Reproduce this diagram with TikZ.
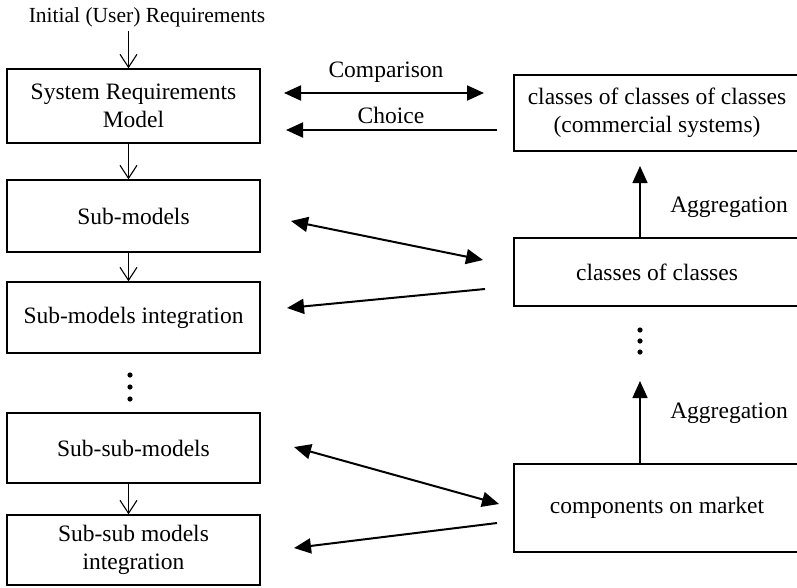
\documentclass[tikz,border=0pt]{standalone}
\usepackage{fontspec}
\setmainfont{Liberation Serif}
\usetikzlibrary{arrows.meta,calc}

\tikzset{
  box/.style={draw, line width=1.4pt, rectangle, inner sep=0pt, align=center},
  lbox/.style={box, minimum width=253pt},
  rbox/.style={box, minimum width=286pt},
  flow/.style={line width=1pt, -{Straight Barb[length=13pt,width=17pt,line width=1.1pt]}},
  link/.style={line width=2pt, -{Triangle[length=17pt,width=15pt]}},
  blink/.style={line width=2pt, {Triangle[length=17pt,width=15pt]}-{Triangle[length=17pt,width=15pt]}},
  agg/.style={line width=1.5pt, -{Triangle[length=17pt,width=15pt]}},
  lbl/.style={inner sep=0pt}
}

\begin{document}
\begin{tikzpicture}[x=1pt, y=-1pt, font=\fontsize{23.5}{28}\selectfont]
  \useasboundingbox (0,0) rectangle (797,587);
  \clip (0,0) rectangle (797,587);

  % left column: requirement models
  \node[lbl, font=\fontsize{21.5}{26}\selectfont] (title) at (147,17) {Initial (User) Requirements};
  \node[lbox, minimum height=74pt] (srm) at (133.5,106) {System Requirements\\Model};
  \node[lbox, minimum height=72pt] (sub) at (133.5,216) {Sub-models};
  \node[lbox, minimum height=71pt] (subint) at (133.5,317.5) {Sub-models integration};
  \node[lbox, minimum height=70pt] (ssub) at (133.5,448) {Sub-sub-models};
  \node[lbox, minimum height=70pt] (ssubint) at (133.5,550) {Sub-sub models\\integration};

  % right column: market classes
  \node[rbox, minimum height=76pt] (ccc) at (657,113) {classes of classes of classes\\(commercial systems)};
  \node[rbox, minimum height=68pt] (cc) at (657,272) {classes of classes};
  \node[rbox, minimum height=88pt] (comp) at (657,508) {components on market};

  % downward flow on the left
  \draw[flow] ([xshift=-5pt]title.south -| srm.north) ++(0,4) -- ([xshift=-5pt]srm.north);
  \draw[flow] ([xshift=-5pt]srm.south) -- ([xshift=-5pt]sub.north);
  \draw[flow] ([xshift=-5pt]sub.south) -- ([xshift=-5pt]subint.north);
  \draw[flow] ([xshift=-5pt]ssub.south) -- ([xshift=-5pt]ssubint.north);

  % continuation dots
  \foreach \y in {375,387,399} \fill (130,\y) circle (2.6pt);
  \foreach \y in {330,341,352} \fill (640,\y) circle (2.6pt);

  % aggregation upwards on the right
  \coordinate (ag1s) at (640,237);
  \coordinate (ag1e) at (640,166);
  \coordinate (ag2s) at (640,464);
  \coordinate (ag2e) at (640,381);
  \draw[agg] (ag1s) -- (ag1e);
  \draw[agg] (ag2s) -- (ag2e);
  \node[lbl] (aggA) at (729,207) {Aggregation};
  \node[lbl] (aggB) at (729,413) {Aggregation};

  % comparison and choice
  \coordinate (cmpL) at (284,93);
  \coordinate (cmpR) at (484,93);
  \coordinate (chR) at (497,130);
  \coordinate (chL) at (286,130);
  \draw[blink] (cmpL) -- (cmpR);
  \draw[link] (chR) -- (chL);
  \node[lbl] (cmp) at (386,72) {Comparison};
  \node[lbl] (ch) at (391,115) {Choice};

  % links between sub-models and classes of classes
  \coordinate (s1a) at (291,221);
  \coordinate (s1b) at (483,260);
  \coordinate (s2a) at (485,289);
  \coordinate (s2b) at (287,308);
  \draw[blink] (s1a) -- (s1b);
  \draw[link] (s2a) -- (s2b);

  % links between sub-sub-models and components
  \coordinate (t1a) at (294,447);
  \coordinate (t1b) at (499,504);
  \coordinate (t2a) at (497,523);
  \coordinate (t2b) at (294,548);
  \draw[blink] (t1a) -- (t1b);
  \draw[link] (t2a) -- (t2b);
\end{tikzpicture}
\end{document}
